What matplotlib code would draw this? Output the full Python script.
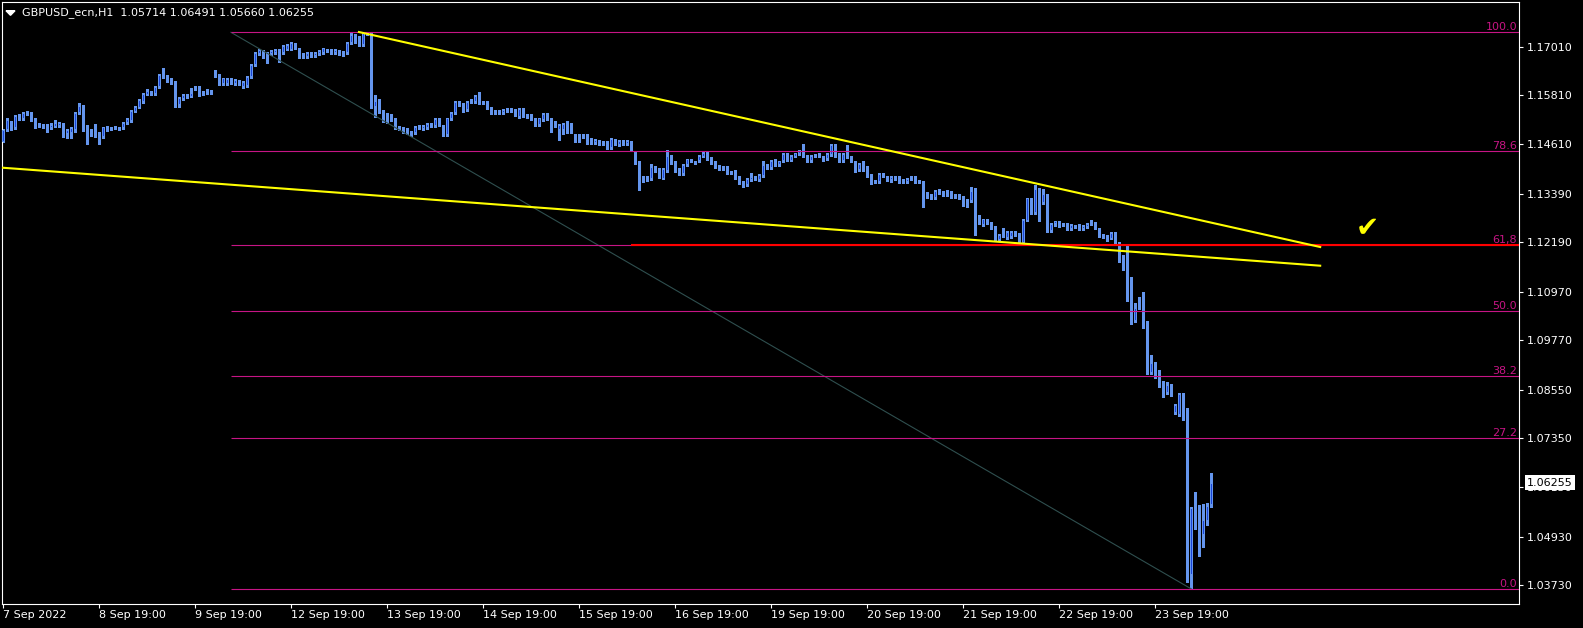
import matplotlib
matplotlib.use("Agg")
import matplotlib.pyplot as plt
from matplotlib.patches import Polygon
import numpy as np

# GBPUSD_ecn H1 bars, prices given in 1/10000 (1.1467 -> 11467)
opens = [
    11467, 11495, 11516, 11500, 11532, 11523, 11541, 11539, 11522, 11510,
    11508, 11509, 11500, 11504, 11505, 11512, 11486, 11489, 11495, 11537,
    11555, 11504, 11495, 11490, 11487, 11479, 11504, 11497, 11503, 11497,
    11501, 11512, 11518, 11541, 11551, 11565, 11583, 11590, 11584, 11601,
    11631, 11627, 11620, 11615, 11557, 11572, 11576, 11578, 11595, 11601,
    11589, 11587, 11592, 11641, 11631, 11609, 11609, 11621, 11609, 11616,
    11601, 11604, 11627, 11656, 11683, 11691, 11685, 11683, 11685, 11693,
    11686, 11694, 11694, 11709, 11697, 11683, 11676, 11685, 11678, 11682,
    11686, 11694, 11693, 11686, 11690, 11689, 11685, 11709, 11731, 11726,
    11705, 11731, 11734, 11553, 11568, 11543, 11527, 11532, 11524, 11504,
    11502, 11493, 11491, 11487, 11505, 11497, 11500, 11512, 11505, 11522,
    11505, 11483, 11522, 11537, 11565, 11561, 11545, 11565, 11565, 11579,
    11561, 11565, 11551, 11537, 11543, 11538, 11543, 11547, 11545, 11528,
    11547, 11533, 11533, 11524, 11508, 11520, 11535, 11522, 11516, 11496,
    11496, 11516, 11510, 11483, 11483, 11479, 11483, 11473, 11463, 11469,
    11461, 11467, 11450, 11471, 11459, 11469, 11461, 11467, 11442, 11418,
    11372, 11381, 11374, 11404, 11399, 11376, 11395, 11432, 11418, 11399,
    11386, 11409, 11423, 11418, 11418, 11430, 11436, 11426, 11418, 11407,
    11399, 11404, 11393, 11395, 11381, 11368, 11360, 11372, 11379, 11372,
    11382, 11409, 11401, 11422, 11409, 11418, 11436, 11420, 11430, 11436,
    11442, 11432, 11418, 11430, 11436, 11430, 11423, 11434, 11459, 11436,
    11418, 11440, 11430, 11418, 11397, 11418, 11405, 11385, 11366, 11368,
    11387, 11379, 11372, 11381, 11381, 11372, 11368, 11379, 11379, 11366,
    11368, 11341, 11335, 11327, 11348, 11339, 11346, 11344, 11335, 11330,
    11331, 11323, 11321, 11346, 11284, 11261, 11275, 11267, 11257, 11224,
    11242, 11229, 11231, 11245, 11239, 11216, 11272, 11327, 11290, 11349,
    11315, 11335, 11247, 11263, 11270, 11261, 11265, 11251, 11259, 11261,
    11251, 11256, 11263, 11267, 11253, 11233, 11234, 11228, 11242, 11218,
    11185, 11175, 11132, 11025, 11056, 11062, 11015, 10896, 10922, 10897,
    10875, 10846, 10867, 10797, 10793, 10845, 10793, 10398, 10565, 10544,
    10497, 10532, 10571,
]
highs = [
    11499, 11524, 11518, 11533, 11535, 11539, 11543, 11541, 11524, 11512,
    11510, 11511, 11512, 11520, 11516, 11514, 11497, 11504, 11540, 11561,
    11557, 11508, 11497, 11510, 11491, 11504, 11506, 11503, 11505, 11503,
    11515, 11524, 11545, 11556, 11573, 11587, 11596, 11593, 11604, 11634,
    11648, 11631, 11623, 11617, 11578, 11585, 11584, 11598, 11603, 11603,
    11591, 11596, 11594, 11644, 11633, 11625, 11623, 11623, 11622, 11618,
    11617, 11629, 11658, 11688, 11696, 11693, 11687, 11692, 11695, 11695,
    11705, 11707, 11712, 11711, 11699, 11685, 11687, 11687, 11688, 11692,
    11699, 11696, 11695, 11695, 11692, 11691, 11713, 11734, 11733, 11728,
    11736, 11738, 11736, 11582, 11571, 11545, 11537, 11535, 11526, 11506,
    11504, 11500, 11493, 11506, 11507, 11507, 11512, 11514, 11524, 11524,
    11507, 11526, 11540, 11567, 11568, 11563, 11567, 11572, 11581, 11590,
    11567, 11567, 11553, 11545, 11545, 11547, 11550, 11549, 11547, 11549,
    11549, 11535, 11535, 11526, 11526, 11537, 11537, 11524, 11518, 11510,
    11512, 11518, 11512, 11485, 11485, 11485, 11485, 11475, 11473, 11471,
    11469, 11469, 11475, 11473, 11471, 11471, 11471, 11469, 11444, 11420,
    11381, 11383, 11411, 11406, 11401, 11401, 11446, 11434, 11420, 11401,
    11411, 11425, 11425, 11420, 11434, 11445, 11442, 11428, 11420, 11409,
    11407, 11406, 11395, 11397, 11383, 11370, 11378, 11390, 11381, 11387,
    11420, 11411, 11422, 11424, 11420, 11438, 11438, 11434, 11440, 11447,
    11461, 11434, 11434, 11436, 11438, 11432, 11438, 11461, 11461, 11438,
    11438, 11459, 11432, 11420, 11415, 11420, 11407, 11387, 11373, 11389,
    11389, 11381, 11381, 11383, 11383, 11374, 11378, 11381, 11381, 11373,
    11370, 11343, 11337, 11348, 11350, 11346, 11348, 11346, 11337, 11337,
    11333, 11325, 11356, 11352, 11286, 11277, 11277, 11269, 11259, 11239,
    11253, 11247, 11247, 11247, 11241, 11276, 11329, 11329, 11360, 11352,
    11350, 11339, 11267, 11272, 11272, 11267, 11267, 11263, 11262, 11263,
    11261, 11266, 11274, 11269, 11255, 11239, 11236, 11244, 11244, 11220,
    11187, 11210, 11134, 11068, 11083, 11097, 11025, 10941, 10924, 10904,
    10877, 10875, 10869, 10820, 10847, 10847, 10809, 10565, 10604, 10571,
    10573, 10577, 10649,
]
lows = [
    11465, 11494, 11495, 11498, 11521, 11521, 11533, 11518, 11500, 11502,
    11501, 11491, 11498, 11502, 11503, 11479, 11477, 11475, 11491, 11534,
    11493, 11461, 11481, 11479, 11461, 11477, 11494, 11495, 11497, 11495,
    11499, 11510, 11516, 11539, 11549, 11563, 11581, 11581, 11582, 11599,
    11623, 11615, 11610, 11553, 11553, 11570, 11574, 11576, 11594, 11580,
    11581, 11585, 11585, 11627, 11607, 11607, 11607, 11610, 11607, 11607,
    11599, 11602, 11625, 11654, 11681, 11674, 11661, 11681, 11683, 11664,
    11684, 11692, 11692, 11695, 11674, 11674, 11674, 11676, 11676, 11680,
    11684, 11687, 11683, 11684, 11680, 11678, 11683, 11707, 11711, 11703,
    11703, 11729, 11551, 11528, 11538, 11516, 11512, 11518, 11497, 11495,
    11488, 11485, 11480, 11485, 11498, 11495, 11498, 11504, 11503, 11506,
    11481, 11481, 11520, 11535, 11556, 11539, 11543, 11563, 11563, 11559,
    11559, 11547, 11536, 11535, 11536, 11536, 11541, 11541, 11531, 11526,
    11528, 11525, 11520, 11506, 11506, 11518, 11520, 11490, 11502, 11471,
    11485, 11487, 11489, 11467, 11465, 11477, 11462, 11461, 11461, 11459,
    11459, 11448, 11448, 11459, 11457, 11459, 11459, 11444, 11413, 11348,
    11368, 11369, 11372, 11393, 11377, 11374, 11393, 11413, 11393, 11384,
    11384, 11407, 11416, 11411, 11416, 11428, 11421, 11411, 11403, 11397,
    11397, 11388, 11387, 11374, 11362, 11355, 11358, 11370, 11372, 11370,
    11380, 11399, 11399, 11407, 11407, 11416, 11418, 11418, 11428, 11434,
    11428, 11416, 11416, 11428, 11430, 11420, 11421, 11432, 11430, 11416,
    11416, 11426, 11416, 11391, 11395, 11395, 11380, 11362, 11364, 11366,
    11379, 11370, 11368, 11372, 11366, 11364, 11366, 11372, 11364, 11364,
    11305, 11329, 11325, 11325, 11337, 11333, 11333, 11329, 11328, 11325,
    11309, 11305, 11319, 11237, 11263, 11259, 11263, 11251, 11222, 11222,
    11232, 11227, 11229, 11235, 11214, 11214, 11270, 11288, 11288, 11270,
    11313, 11245, 11245, 11259, 11256, 11259, 11249, 11249, 11254, 11249,
    11249, 11254, 11261, 11251, 11231, 11229, 11223, 11226, 11216, 11169,
    11150, 11075, 11017, 11023, 11054, 11008, 10894, 10894, 10883, 10861,
    10838, 10844, 10840, 10795, 10791, 10780, 10382, 10364, 10513, 10445,
    10468, 10522, 10566,
]
closes = [
    11495, 11520, 11497, 11530, 11523, 11537, 11534, 11520, 11504, 11504,
    11503, 11495, 11508, 11512, 11513, 11486, 11495, 11500, 11538, 11555,
    11495, 11489, 11483, 11481, 11479, 11502, 11495, 11501, 11499, 11501,
    11513, 11522, 11542, 11553, 11570, 11584, 11592, 11583, 11601, 11631,
    11625, 11619, 11612, 11557, 11575, 11582, 11582, 11586, 11601, 11582,
    11583, 11592, 11587, 11629, 11609, 11623, 11621, 11612, 11620, 11609,
    11615, 11627, 11656, 11685, 11694, 11676, 11676, 11690, 11693, 11686,
    11703, 11705, 11709, 11697, 11676, 11676, 11685, 11678, 11686, 11690,
    11697, 11689, 11685, 11693, 11682, 11680, 11711, 11731, 11713, 11705,
    11734, 11735, 11553, 11567, 11541, 11520, 11516, 11520, 11500, 11497,
    11491, 11487, 11482, 11504, 11500, 11505, 11510, 11506, 11522, 11508,
    11483, 11524, 11538, 11565, 11558, 11541, 11565, 11570, 11579, 11561,
    11565, 11549, 11538, 11543, 11538, 11545, 11548, 11543, 11533, 11547,
    11530, 11527, 11522, 11508, 11524, 11535, 11522, 11504, 11504, 11508,
    11510, 11504, 11491, 11471, 11467, 11483, 11464, 11463, 11471, 11461,
    11467, 11450, 11473, 11461, 11469, 11461, 11469, 11446, 11418, 11372,
    11376, 11371, 11404, 11395, 11379, 11399, 11432, 11415, 11395, 11386,
    11409, 11423, 11418, 11413, 11432, 11438, 11423, 11413, 11405, 11399,
    11405, 11390, 11389, 11376, 11364, 11357, 11376, 11379, 11374, 11385,
    11409, 11401, 11420, 11409, 11418, 11436, 11420, 11432, 11438, 11445,
    11430, 11418, 11432, 11434, 11432, 11422, 11436, 11459, 11432, 11418,
    11436, 11428, 11418, 11393, 11413, 11397, 11382, 11364, 11371, 11387,
    11381, 11372, 11379, 11374, 11368, 11366, 11376, 11374, 11366, 11371,
    11335, 11331, 11327, 11346, 11339, 11344, 11335, 11331, 11330, 11335,
    11311, 11313, 11346, 11280, 11265, 11275, 11265, 11253, 11224, 11237,
    11234, 11245, 11245, 11237, 11216, 11274, 11327, 11290, 11349, 11315,
    11337, 11247, 11265, 11270, 11258, 11265, 11251, 11261, 11256, 11251,
    11259, 11264, 11267, 11253, 11233, 11237, 11228, 11242, 11218, 11183,
    11173, 11132, 11025, 11056, 11062, 11012, 10896, 10920, 10896, 10873,
    10848, 10867, 10842, 10818, 10845, 10793, 10398, 10563, 10542, 10497,
    10534, 10568, 10626,
]

last_quote = [1.05714, 1.06491, 1.05660, 1.06255]   # O H L C of the last bar
symbol = "GBPUSD_ecn,H1"

time_tick_bars = [0, 24, 48, 72, 96, 120, 144, 168, 192, 216, 240, 264, 288]
time_tick_labels = ["7 Sep 2022", "8 Sep 19:00", "9 Sep 19:00", "12 Sep 19:00",
                    "13 Sep 19:00", "14 Sep 19:00", "15 Sep 19:00", "16 Sep 19:00",
                    "19 Sep 19:00", "20 Sep 19:00", "21 Sep 19:00", "22 Sep 19:00",
                    "23 Sep 19:00"]
price_ticks = [1.17010, 1.15810, 1.14610, 1.13390, 1.12190, 1.10970,
               1.09770, 1.08550, 1.07350, 1.06150, 1.04930, 1.03730]

# Fibonacci retracement (anchors: bar index, price)
fib_start_bar, fib_high = 56.9, 1.17365
fib_end_bar, fib_low = 297, 1.03639
fib_levels = [0.0, 27.2, 38.2, 50.0, 61.8, 78.6, 100.0]
fib_labels = ["0.0", "27.2", "38.2", "50.0", "61,8", "78.6", "100.0"]

# trend lines (bar index, price)
upper_trend_bars, upper_trend_prices = [88.9, 329.2], [1.17372, 1.12071]
lower_trend_bars, lower_trend_prices = [-1.0, 329.2], [1.14032, 1.11610]
red_line_bar, red_line_price = 157, 1.12125
check_bar, check_price = 341, 1.1254

BLUE = "#6495ED"
BULL_FILL = "#1A44D8"
FIB = "#C71585"
W, H = 1583, 628
PX = 1 / 4055.6          # one pixel in price units on this scale

o = np.array(opens) / 1e4
h = np.array(highs) / 1e4
l = np.array(lows) / 1e4
c = np.array(closes) / 1e4
bars = np.arange(len(o))
up = c >= o
body_lo = np.minimum(o, c)
body_hi = np.maximum(o, c)
body_h = np.maximum(body_hi - body_lo, PX)

fig = plt.figure(figsize=(W / 100, H / 100), dpi=100, facecolor="black")
ax = fig.add_axes([2 / W, 1 - 604 / H, 1517 / W, 602 / H])
ax.set_facecolor("black")

# candles: wick, solid body, and a dark core on bullish bodies
ax.vlines(bars, l, h, color=BLUE, lw=0.75, zorder=2, antialiased=False)
ax.bar(bars, body_h, bottom=body_lo, width=0.72, color=BLUE, linewidth=0,
       zorder=3, antialiased=False)
inner = up & (body_hi - body_lo > 2.5 * PX)
ax.bar(bars[inner], (body_hi - body_lo)[inner] - 2 * PX, bottom=body_lo[inner] + PX,
       width=0.25, color=BULL_FILL, linewidth=0, zorder=3.5, antialiased=False)

x_right = 378.9
# fibo
ax.plot([fib_start_bar, fib_end_bar], [fib_high, fib_low], color="#2F4F4F", lw=0.8, zorder=4)
for lvl, lab in zip(fib_levels, fib_labels):
    p = fib_low + lvl / 100 * (fib_high - fib_low)
    ax.hlines(p, fib_start_bar, x_right, color=FIB, lw=0.8, zorder=4)
    ax.annotate(lab, xy=(1, p), xycoords=("axes fraction", "data"), xytext=(-2, 0),
                textcoords="offset pixels", ha="right", va="bottom", color=FIB, fontsize=8)

ax.hlines(red_line_price, red_line_bar, x_right, color="#FF0000", lw=1.5, zorder=5)
ax.plot(upper_trend_bars, upper_trend_prices, color="#FFFF00", lw=1.5, zorder=5)
ax.plot(lower_trend_bars, lower_trend_prices, color="#FFFF00", lw=1.5, zorder=5)
ax.text(check_bar, check_price, "\u2714", color="#FFFF00", fontsize=20, ha="center", va="center", zorder=6)

ax.set_xlim(-0.325, x_right)
ax.set_ylim(1.032685, 1.181122)

ax.set_xticks(time_tick_bars)
ax.set_xticklabels(time_tick_labels)
for t in ax.get_xticklabels():
    t.set_horizontalalignment("left")
ax.yaxis.tick_right()
ax.set_yticks(price_ticks)
ax.set_yticklabels(["%.5f" % p for p in price_ticks])
ax.tick_params(axis="x", colors="white", length=2.9, width=0.8, labelsize=8, pad=1.5)
ax.tick_params(axis="y", colors="white", length=2.9, width=0.8, labelsize=8, pad=2.9)
for s in ax.spines.values():
    s.set_color("white")
    s.set_linewidth(0.8)

# current price marker (covers the 1.06150 label as in the terminal)
ax.annotate("%.5f" % last_quote[3], xy=(1, last_quote[3]), xycoords=("axes fraction", "data"),
            xytext=(8, 0), textcoords="offset pixels", ha="left", va="center", fontsize=8,
            color="black", bbox=dict(boxstyle="square,pad=0.22", fc="white", ec="none"),
            annotation_clip=False, zorder=10)

# header
fig.add_artist(Polygon([[6 / W, 1 - 10.7 / H], [15 / W, 1 - 10.7 / H], [10.5 / W, 1 - 15.3 / H]],
                       closed=True, transform=fig.transFigure, color="white"))
fig.text(21.7 / W, 1 - 12.7 / H, symbol + "  " + " ".join("%.5f" % v for v in last_quote),
         color="white", fontsize=8, va="center", ha="left")

fig.savefig("out.png", dpi=100, facecolor="black")
